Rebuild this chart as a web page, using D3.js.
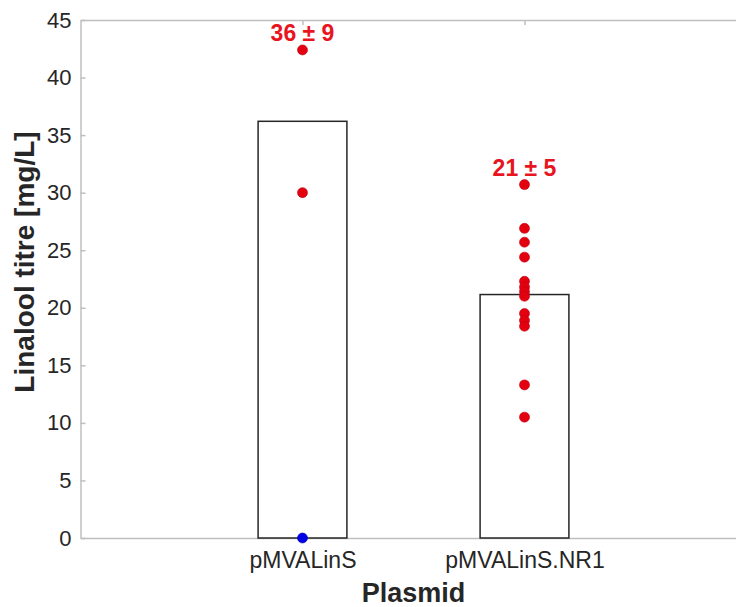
<!DOCTYPE html>
<html>
<head>
<meta charset="utf-8">
<script src="https://cdn.jsdelivr.net/npm/d3@7"></script>
<style>
  body { margin: 0; background: #fff; }
  svg { display: block; font-family: "Liberation Sans", Arial, sans-serif; }
  .axis path, .axis line { stroke: #bfbfbf; stroke-width: 1.5; }
  .axis text { fill: #262626; font-size: 22px; }
  .x.axis text { font-size: 23px; }
</style>
</head>
<body>
<div id="chart"></div>
<script>
// plasmids on the x axis
var categories = ["pMVALinS", "pMVALinS.NR1"];
// bar heights (mean titre, mg/L)
var means = [36.2, 21.15];
// mean ± sd annotations
var annotations = ["36 \u00b1 9", "21 \u00b1 5"];
// individual replicates (mg/L)
var pointsLinS = [42.4, 30.0];
var pointsNR1 = [30.7, 26.9, 25.7, 24.4, 22.3, 21.8, 21.4, 21.0, 19.5, 18.9, 18.4, 13.3, 10.5];
// excluded replicate drawn in blue
var excludedLinS = [0];
var yTicks = [0, 5, 10, 15, 20, 25, 30, 35, 40, 45];

var width = 736, height = 607;
var plot = {left: 80.5, right: 746.5, top: 20, bottom: 538};

var svg = d3.select("#chart").append("svg")
    .attr("width", width)
    .attr("height", height);

// x is numeric like in matlab: categories sit at 1 and 2
var xScale = d3.scaleLinear().domain([0, 3]).range([plot.left, plot.right]);
var yScale = d3.scaleLinear().domain([0, 45]).range([plot.bottom, plot.top]);
var barWidth = (xScale(1) - xScale(0)) * 0.4;

// axes, ticks pointing inward
svg.append("g")
    .attr("class", "y axis")
    .attr("transform", "translate(" + plot.left + ",0)")
    .call(d3.axisLeft(yScale).tickValues(yTicks).tickSizeInner(-5).tickSizeOuter(0).tickPadding(9));

svg.append("g")
    .attr("class", "y axis")
    .attr("transform", "translate(" + plot.right + ",0)")
    .call(d3.axisRight(yScale).tickValues(yTicks).tickSizeInner(-5).tickSizeOuter(0).tickFormat(""));

svg.append("g")
    .attr("class", "x axis")
    .attr("transform", "translate(0," + plot.bottom + ")")
    .call(d3.axisBottom(xScale).tickValues([1, 2]).tickSizeInner(-5).tickSizeOuter(0).tickPadding(14)
        .tickFormat(function(d) { return categories[d - 1]; }));

svg.append("g")
    .attr("class", "x axis")
    .attr("transform", "translate(0," + plot.top + ")")
    .call(d3.axisTop(xScale).tickValues([1, 2]).tickSizeInner(-5).tickSizeOuter(0).tickFormat(""));

svg.selectAll(".axis .domain").attr("stroke", "#bfbfbf").attr("stroke-width", 1.5);

// bars
svg.selectAll("rect.bar")
    .data(means)
    .enter().append("rect")
    .attr("class", "bar")
    .attr("x", function(d, i) { return xScale(i + 1) - barWidth / 2; })
    .attr("y", function(d) { return yScale(d); })
    .attr("width", barWidth)
    .attr("height", function(d) { return yScale(0) - yScale(d); })
    .attr("fill", "#fff")
    .attr("stroke", "#262626")
    .attr("stroke-width", 1.5);

// replicate points
var groups = [pointsLinS, pointsNR1];
groups.forEach(function(pts, i) {
    svg.selectAll(null)
        .data(pts)
        .enter().append("circle")
        .attr("cx", xScale(i + 1))
        .attr("cy", function(d) { return yScale(d); })
        .attr("r", 5)
        .attr("fill", "#e3000f")
        .attr("stroke", "#c00010")
        .attr("stroke-width", 0.6);
});

svg.selectAll(null)
    .data(excludedLinS)
    .enter().append("circle")
    .attr("cx", xScale(1))
    .attr("cy", function(d) { return yScale(d); })
    .attr("r", 5)
    .attr("fill", "#0000e6")
    .attr("stroke", "#0000b0")
    .attr("stroke-width", 0.6);

// mean ± sd labels above the highest point
svg.selectAll("text.annot")
    .data(annotations)
    .enter().append("text")
    .attr("class", "annot")
    .attr("x", function(d, i) { return xScale(i + 1); })
    .attr("y", function(d, i) { return yScale(d3.max(groups[i])) - 9; })
    .attr("text-anchor", "middle")
    .attr("fill", "#e8141e")
    .style("font-size", "23px")
    .style("font-weight", "bold")
    .text(function(d) { return d; });

// axis titles
svg.append("text")
    .attr("transform", "rotate(-90)")
    .attr("x", -262)
    .attr("y", 34)
    .attr("text-anchor", "middle")
    .attr("fill", "#262626")
    .style("font-size", "28px")
    .style("font-weight", "bold")
    .text("Linalool titre [mg/L]");

svg.append("text")
    .attr("x", (plot.left + plot.right) / 2)
    .attr("y", 602)
    .attr("text-anchor", "middle")
    .attr("fill", "#262626")
    .style("font-size", "27px")
    .style("font-weight", "bold")
    .text("Plasmid");
</script>
</body>
</html>
